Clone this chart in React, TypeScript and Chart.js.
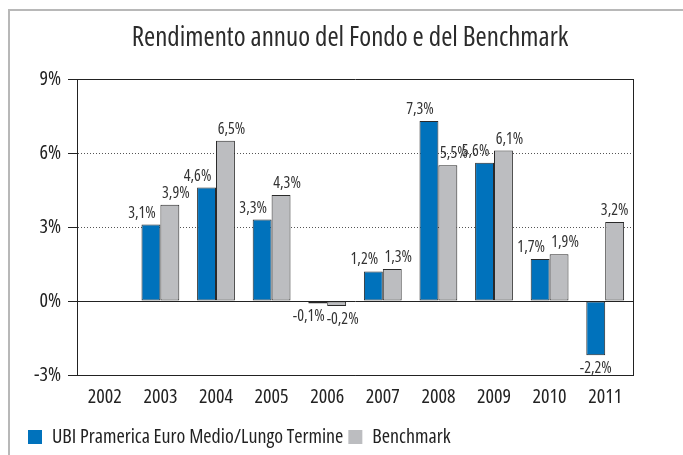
import React, { useEffect, useRef } from 'react';
import { Chart, registerables } from 'chart.js';

Chart.register(...registerables);

const titleText = 'Rendimento annuo del Fondo e del Benchmark';
const years = ['2002', '2003', '2004', '2005', '2006', '2007', '2008', '2009', '2010', '2011'];
const fundLabel = 'UBI Pramerica Euro Medio/Lungo Termine';
const fundValues: (number | null)[] = [null, 3.1, 4.6, 3.3, -0.1, 1.2, 7.3, 5.6, 1.7, -2.2];
const benchLabel = 'Benchmark';
const benchValues: (number | null)[] = [null, 3.9, 6.5, 4.3, -0.2, 1.3, 5.5, 6.1, 1.9, 3.2];
const yTickValues = [-3, 0, 3, 6, 9];

const FAMILY = "'Open Sans', 'DejaVu Sans Condensed', sans-serif";
const WEIGHT = '400 condensed';
const BLUE = '#0072bc';
const GREY = '#bcbdc0';
const INK = '#222222';

const fmt = (v: number) => v.toFixed(1).replace('.', ',') + '%';

const layoutPlugin = {
  id: 'layoutTweaks',
  afterLayout(chart: any) {
    const t = chart.titleBlock;
    if (t) {
      t.left = chart.chartArea.left - 10;
      t.right = chart.chartArea.right;
    }
  },
  afterDraw(chart: any) {
    const { ctx, chartArea } = chart;
    ctx.save();
    ctx.strokeStyle = INK;
    ctx.lineWidth = 1;
    ctx.beginPath();
    const x = Math.round(chartArea.right) + 0.5;
    ctx.moveTo(x, chartArea.top);
    ctx.lineTo(x, chartArea.bottom);
    ctx.stroke();
    ctx.restore();
  },
};

const valueLabelPlugin = {
  id: 'valueLabels',
  afterDatasetsDraw(chart: any) {
    const ctx = chart.ctx;
    ctx.save();
    ctx.font = `condensed 16px ${FAMILY}`;
    ctx.fillStyle = '#333333';
    ctx.textAlign = 'center';
    ctx.textBaseline = 'alphabetic';
    const sets = chart.data.datasets;
    sets.forEach((ds: any, di: number) => {
      const meta = chart.getDatasetMeta(di);
      meta.data.forEach((el: any, j: number) => {
        const v = ds.data[j];
        if (v == null) return;
        const other = sets[1 - di].data[j];
        const sameSide = other != null && (other >= 0) === (v >= 0);
        const dx = sameSide ? (di === 0 ? -9 : 6) : 0;
        if (v >= 0) ctx.fillText(fmt(v), el.x + dx, el.y - 7);
        else ctx.fillText(fmt(v), el.x + dx, el.y + 18);
      });
    });
    ctx.restore();
  },
};

export default function App() {
  const ref = useRef<HTMLCanvasElement | null>(null);

  useEffect(() => {
    if (!ref.current) return;
    const chart = new Chart(ref.current, {
      type: 'bar',
      data: {
        labels: years,
        datasets: [
          {
            label: fundLabel,
            data: fundValues,
            backgroundColor: BLUE,
            borderColor: '#2a2a2a',
            borderWidth: 1,
            borderSkipped: false,
            barPercentage: 1,
            categoryPercentage: 0.68,
          },
          {
            label: benchLabel,
            data: benchValues,
            backgroundColor: GREY,
            borderColor: '#2a2a2a',
            borderWidth: 1,
            borderSkipped: false,
            barPercentage: 1,
            categoryPercentage: 0.68,
          },
        ],
      },
      options: {
        responsive: false,
        animation: false,
        layout: { padding: { left: 23, right: 50, top: 0, bottom: -2 } },
        plugins: {
          title: {
            display: true,
            text: titleText,
            color: '#2b2b2b',
            font: { family: FAMILY, size: 27, weight: WEIGHT },
            padding: { top: 22, bottom: 24.6 },
          },
          legend: {
            display: true,
            position: 'bottom',
            align: 'start',
            labels: {
              boxWidth: 14,
              boxHeight: 14,
              padding: 5,
              color: INK,
              font: { family: FAMILY, size: 20, weight: WEIGHT },
              generateLabels: (c: any) =>
                (Chart.defaults.plugins.legend.labels as any)
                  .generateLabels(c)
                  .map((l: any) => ({ ...l, lineWidth: 0, strokeStyle: l.fillStyle })),
            },
          },
          tooltip: { enabled: false },
        },
        scales: {
          x: {
            grid: { display: false, drawTicks: false },
            border: { display: true, color: INK, width: 1 },
            ticks: { color: INK, font: { family: FAMILY, size: 20, weight: WEIGHT }, padding: 10 },
            afterFit: (s: any) => {
              s.height = 47;
            },
          },
          y: {
            min: -3,
            max: 9,
            afterBuildTicks: (s: any) => {
              s.ticks = yTickValues.map((v) => ({ value: v }));
            },
            grid: {
              color: (c: any) => (c.tick && (c.tick.value === 3 || c.tick.value === 6) ? '#555555' : INK),
              lineWidth: 1,
              tickLength: 9,
              tickColor: INK,
              drawTicks: true,
            },
            border: {
              display: true,
              color: INK,
              width: 1,
              dash: (c: any) => (c.tick && (c.tick.value === 3 || c.tick.value === 6) ? [1, 2] : []),
            },
            ticks: {
              color: INK,
              padding: 7,
              font: { family: FAMILY, size: 20, weight: WEIGHT },
              callback: (v: any) => `${v}%`,
            },
            afterFit: (s: any) => {
              s.width = 54;
            },
          },
        },
      },
      plugins: [layoutPlugin, valueLabelPlugin],
    } as any);
    return () => chart.destroy();
  }, []);

  return (
    <div style={{ position: 'absolute', left: 0, top: 0, width: 683, height: 455, background: '#ffffff' }}>
      <div
        style={{
          position: 'absolute',
          left: 8,
          top: 9,
          width: 675,
          height: 446,
          borderTop: '2px solid #b8b8b8',
          borderLeft: '2px solid #b8b8b8',
          boxSizing: 'border-box',
        }}
      />
      <canvas ref={ref} width={683} height={455} style={{ position: 'absolute', left: 0, top: 0, display: 'block' }} />
    </div>
  );
}
